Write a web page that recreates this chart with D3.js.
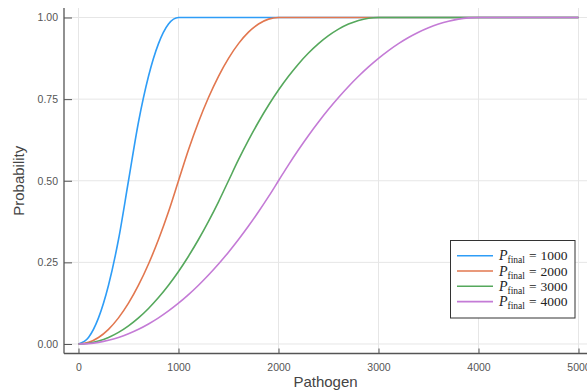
<!DOCTYPE html>
<html><head><meta charset="utf-8">
<script src="https://cdn.jsdelivr.net/npm/d3@7"></script>
<style>body{margin:0;background:#fff}svg{display:block}</style>
</head><body>
<script>
const xs = [0,100,200,300,400,500,600,700,800,900,1000,1100,1200,1300,1400,1500,1600,1700,1800,1900,2000,2100,2200,2300,2400,2500,2600,2700,2800,2900,3000,3100,3200,3300,3400,3500,3600,3700,3800,3900,4000,4100,4200,4300,4400,4500,4600,4700,4800,4900,5000];
const p1000 = [0,.02,.08,.18,.32,.5,.68,.82,.92,.98,1,1,1,1,1,1,1,1,1,1,1,1,1,1,1,1,1,1,1,1,1,1,1,1,1,1,1,1,1,1,1,1,1,1,1,1,1,1,1,1,1];
const p2000 = [0,.005,.02,.045,.08,.125,.18,.245,.32,.405,.5,.595,.68,.755,.82,.875,.92,.955,.98,.995,1,1,1,1,1,1,1,1,1,1,1,1,1,1,1,1,1,1,1,1,1,1,1,1,1,1,1,1,1,1,1];
const p3000 = [0,.0022,.0089,.02,.0356,.0556,.08,.1089,.1422,.18,.2222,.2689,.32,.3756,.4356,.5,.5644,.6244,.68,.7311,.7778,.82,.8578,.8911,.92,.9444,.9644,.98,.9911,.9978,1,1,1,1,1,1,1,1,1,1,1,1,1,1,1,1,1,1,1,1,1];
const p4000 = [0,.00125,.005,.01125,.02,.03125,.045,.06125,.08,.10125,.125,.15125,.18,.21125,.245,.28125,.32,.36125,.405,.45125,.5,.54875,.595,.63875,.68,.71875,.755,.78875,.82,.84875,.875,.89875,.92,.93875,.955,.96875,.98,.98875,.995,.99875,1,1,1,1,1,1,1,1,1,1,1];
const seriesNames = ["1000","2000","3000","4000"];
const seriesValues = [p1000,p2000,p3000,p4000];
const colors = ["#2E9DF7","#E2774F","#55A85C","#C47BD6"];
const xTicks = [0,1000,2000,3000,4000,5000];
const yTicks = [0,0.25,0.5,0.75,1];
const xLabel = "Pathogen", yLabel = "Probability";

(function(){
const W = 587, H = 392;
const mL = 64, mR = 587, mT = 8, mB = 353.5;
const svg = d3.select("body").append("svg").attr("width", W).attr("height", H);
const x = d3.scaleLinear().domain([-145, 5085]).range([mL, mR]);
const y = d3.scaleLinear().domain([-0.0291, 1.0291]).range([mB, mT]);

const g = svg.append("g");
g.selectAll(".vg").data(xTicks).join("line")
  .attr("x1", d => x(d)).attr("x2", d => x(d)).attr("y1", mT).attr("y2", mB)
  .attr("stroke", "#e6e6e6").attr("stroke-width", 1);
g.selectAll(".hg").data(yTicks).join("line")
  .attr("x1", mL).attr("x2", mR).attr("y1", d => y(d)).attr("y2", d => y(d))
  .attr("stroke", "#e6e6e6").attr("stroke-width", 1);

const font = "'Liberation Sans', Arial, sans-serif";
const xAxis = svg.append("g").attr("transform", `translate(0,${mB})`)
  .call(d3.axisBottom(x).tickValues(xTicks).tickSize(-5).tickPadding(10).tickFormat(d3.format("d")));
const yAxis = svg.append("g").attr("transform", `translate(${mL},0)`)
  .call(d3.axisLeft(y).tickValues(yTicks).tickSize(-8).tickPadding(6).tickFormat(d3.format(".2f")));
[xAxis, yAxis].forEach(a => {
  a.select(".domain").attr("stroke", "#555").attr("stroke-width", 1.3);
  a.selectAll(".tick line").attr("stroke", "#555").attr("stroke-width", 1);
  a.selectAll(".tick text").attr("fill", "#555").style("font-family", font).style("font-size", "10.5px");
});
xAxis.select(".domain").attr("d", `M${mL},0H${mR}`);
yAxis.select(".domain").attr("d", `M0,${mT}V${mB}`);

const line = d3.line().x((d, i) => x(xs[i])).y(d => y(d)).curve(d3.curveMonotoneX);
svg.append("g").selectAll("path").data(seriesValues).join("path")
  .attr("d", line).attr("fill", "none")
  .attr("stroke", (d, i) => colors[i]).attr("stroke-width", 1.6);

svg.append("text").attr("x", (mL + mR) / 2).attr("y", 387).attr("text-anchor", "middle")
  .style("font-family", font).style("font-size", "15px").attr("fill", "#444").text(xLabel);
svg.append("text").attr("transform", `translate(24,${(mT + mB) / 2}) rotate(-90)`)
  .attr("text-anchor", "middle").style("font-family", font).style("font-size", "15px")
  .attr("fill", "#444").text(yLabel);

const lg = svg.append("g");
lg.append("rect").attr("x", 450.5).attr("y", 240.5).attr("width", 124.5).attr("height", 77.5)
  .attr("fill", "#fff").attr("stroke", "#333").attr("stroke-width", 1);
const serif = "'Liberation Serif', 'DejaVu Serif', serif";
seriesNames.forEach((name, i) => {
  const cy = 255.7 + i * 15.3;
  lg.append("line").attr("x1", 457).attr("x2", 493).attr("y1", cy).attr("y2", cy)
    .attr("stroke", colors[i]).attr("stroke-width", 1.6);
  const t = lg.append("text").attr("x", 499).attr("y", cy + 4.5)
    .style("font-family", serif).style("font-size", "13.5px").attr("fill", "#222");
  t.append("tspan").style("font-style", "italic").style("font-size", "14px").text("P");
  t.append("tspan").attr("dy", 3).attr("dx", 0).style("font-size", "9.5px").text("final");
  t.append("tspan").attr("dy", -3).attr("dx", 4).text("=");
  t.append("tspan").attr("dx", 4).text(name);
});
})();
</script>
</body></html>
